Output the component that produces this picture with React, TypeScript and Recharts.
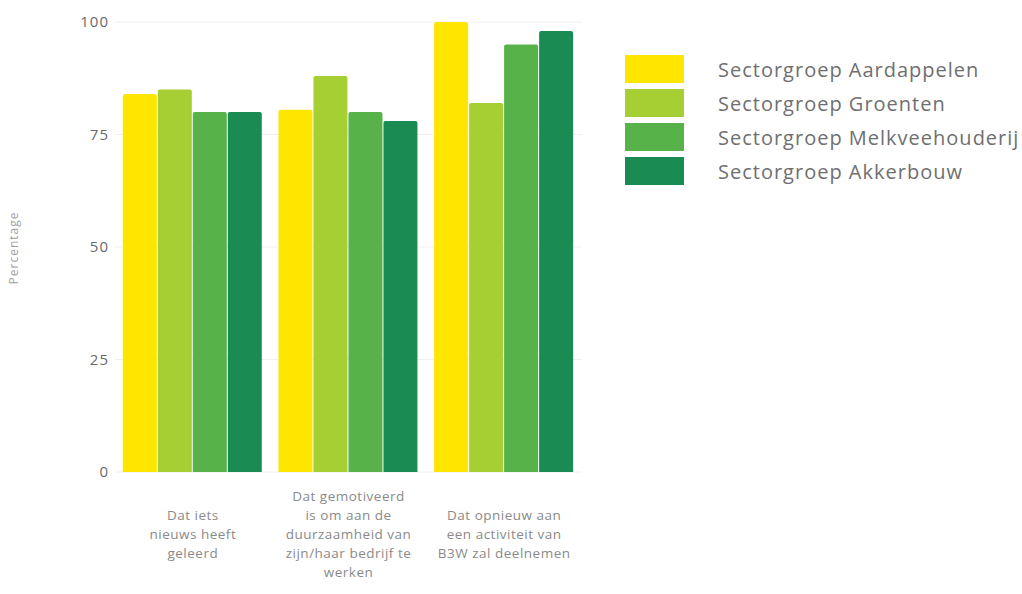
import React from 'react';
import { BarChart, Bar, XAxis, YAxis, CartesianGrid } from 'recharts';

const categories = ['Dat iets nieuws heeft geleerd', 'Dat gemotiveerd is om aan de duurzaamheid', 'Dat opnieuw aan een activiteit van B3W'];
const tickLines = [
    ['Dat iets', 'nieuws heeft', 'geleerd'],
    ['Dat gemotiveerd', 'is om aan de', 'duurzaamheid van', 'zijn/haar bedrijf te', 'werken'],
    ['Dat opnieuw aan', 'een activiteit van', 'B3W zal deelnemen'],
];
const aardappelen = [84, 80.5, 100];
const groenten = [85, 88, 82];
const melkveehouderij = [80, 80, 95];
const akkerbouw = [80, 78, 98];
const yTicks = [0, 25, 50, 75, 100];

const series = [
    { key: 'aardappelen', name: 'Sectorgroep Aardappelen', color: '#FFE600' },
    { key: 'groenten', name: 'Sectorgroep Groenten', color: '#A5CF32' },
    { key: 'melkveehouderij', name: 'Sectorgroep Melkveehouderij', color: '#58B24A' },
    { key: 'akkerbouw', name: 'Sectorgroep Akkerbouw', color: '#1B8B54' },
];

const data = categories.map((c, i) => ({
    name: c,
    aardappelen: aardappelen[i],
    groenten: groenten[i],
    melkveehouderij: melkveehouderij[i],
    akkerbouw: akkerbouw[i],
}));

const FONT = '"Open Sans", sans-serif';

const CategoryTick = ({ x, payload }: any) => {
    const lines = tickLines[payload.index] || [];
    const lh = 19;
    const top = 534 - ((lines.length - 1) * lh) / 2;
    return (
        <g>
            {lines.map((l, i) => (
                <text key={i} x={x} y={top + i * lh} textAnchor="middle" dominantBaseline="central"
                    fontSize={13.5} letterSpacing={0.5} fill="#8a8a8a" fontFamily={FONT}>
                    {l}
                </text>
            ))}
        </g>
    );
};

const LegendBox = () => (
    <div style={{ position: 'absolute', left: 625, top: 55, fontFamily: FONT }}>
        {series.map(s => (
            <div key={s.key} style={{ display: 'flex', alignItems: 'center', height: 28, marginBottom: 6 }}>
                <div style={{ width: 59, height: 28, background: s.color }} />
                <span style={{ marginLeft: 34, fontSize: 20, letterSpacing: 1, color: '#6f6f6f', whiteSpace: 'nowrap' }}>{s.name}</span>
            </div>
        ))}
    </div>
);

const YLabel = () => (
    <text x={13} y={248} transform="rotate(-90 13 248)" textAnchor="middle" dominantBaseline="central"
        fontSize={12} letterSpacing={1} fill="#a0a0a0" fontFamily={FONT}>
        Percentage
    </text>
);

export default function App() {
    return (
        <div style={{ position: 'absolute', left: 0, top: 0, width: 1022, height: 594, background: '#fff' }}>
            <BarChart width={1022} height={594} data={data}
                margin={{ top: 22, right: 440, left: 0, bottom: 0 }}
                barCategoryGap="5%" barGap={1}>
                <CartesianGrid vertical={false} stroke="#f0f0f0" />
                <XAxis dataKey="name" axisLine={false} tickLine={false} height={122}
                    tick={<CategoryTick />} interval={0} />
                <YAxis domain={[0, 100]} ticks={yTicks} width={115} axisLine={false} tickLine={false}
                    tickSize={3} tickMargin={3}
                    tick={{ fontSize: 15, letterSpacing: 1, fill: '#6a6a6a', fontFamily: FONT }}
                    label={<YLabel />} />
                {series.map(s => (
                    <Bar key={s.key} dataKey={s.key} name={s.name} fill={s.color}
                        radius={[2, 2, 0, 0]} isAnimationActive={false} />
                ))}
            </BarChart>
            <LegendBox />
        </div>
    );
}
